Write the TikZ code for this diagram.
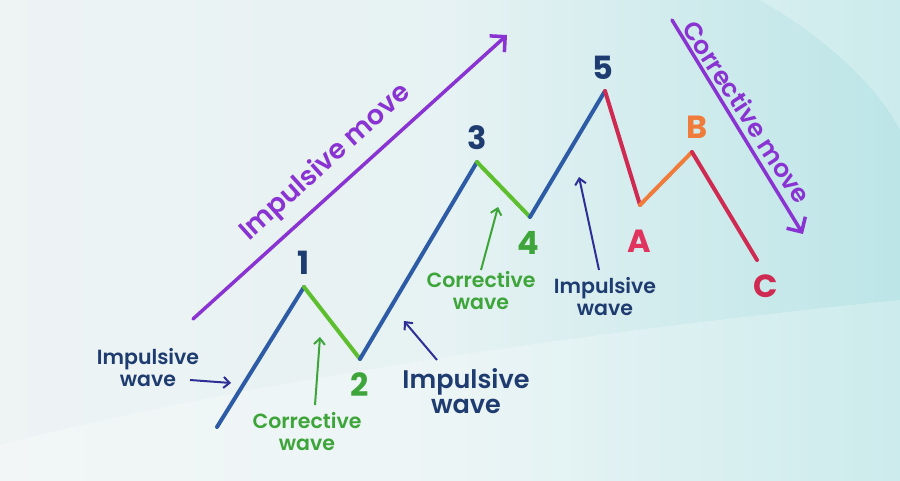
\documentclass[tikz,border=0pt]{standalone}
\usepackage{fontspec}
\setmainfont{Poppins}[UprightFont=*-SemiBold, BoldFont=*-Bold]
\usetikzlibrary{arrows.meta}
\definecolor{navy}{HTML}{1F3C70}
\definecolor{wblue}{HTML}{2D5BA6}
\definecolor{wgreen}{HTML}{5DBE2E}
\definecolor{tgreen}{HTML}{3DA53A}
\definecolor{wred}{HTML}{CF2A52}
\definecolor{tred}{HTML}{E0335E}
\definecolor{worange}{HTML}{F07C3C}
\definecolor{purp}{HTML}{8A33D3}
\definecolor{indigo}{HTML}{2E2F96}
\definecolor{bgL}{HTML}{EEF3F4}
\definecolor{bgM}{HTML}{E6F2F3}
\definecolor{bgR}{HTML}{BCE5E7}
\begin{document}
\begin{tikzpicture}[x=1pt,y=-1pt,
  wave/.style={line width=4pt, line cap=round, line join=round},
  num/.style={font=\bfseries\fontsize{32}{32}\selectfont, inner sep=0pt},
  lbl/.style={font=\fontsize{20.5}{22}\selectfont, align=center, inner sep=0pt},
  biglbl/.style={font=\fontsize{25.5}{25}\selectfont, align=center, inner sep=0pt},
  small/.style={line width=2pt, -{Straight Barb[length=6pt,width=11pt,line width=2pt]}},
  bigarr/.style={line width=3.5pt, purp, line cap=round, -{Straight Barb[length=11pt,width=22pt,line width=3.5pt]}},
  move/.style={font=\fontsize{27}{27}\selectfont, purp, inner sep=0pt}]
\useasboundingbox (0,0) rectangle (900,481);
\shade[left color=bgL, right color=bgR, middle color=bgM] (0,0) rectangle (900,481);
\fill[white, opacity=0.25] (0,481) -- (0,445) .. controls (250,380) and (600,330) .. (900,300) -- (900,481) -- cycle;
\fill[white, opacity=0.25] (760,0) .. controls (830,40) and (880,90) .. (900,130) -- (900,0) -- cycle;

% wave points
\coordinate (s) at (217,427);
\coordinate (p1) at (304,287);
\coordinate (p2) at (360,359);
\coordinate (p3) at (477,162);
\coordinate (p4) at (530,217);
\coordinate (p5) at (605,91);
\coordinate (pA) at (640,205);
\coordinate (pB) at (692,152);
\coordinate (pC) at (757,260);

\draw[wave, wblue] (s) -- (p1);
\draw[wave, wgreen] (p1) -- (p2);
\draw[wave, wblue] (p2) -- (p3);
\draw[wave, wgreen] (p3) -- (p4);
\draw[wave, wblue] (p4) -- (p5);
\draw[wave, wred] (p5) -- (pA);
\draw[wave, worange] (pA) -- (pB);
\draw[wave, wred] (pB) -- (pC);

% numbers
\node[num, navy] (n1) at (304,263) {1};
\node[num, tgreen] (n2) at (360,385) {2};
\node[num, navy] (n3) at (477,138) {3};
\node[num, tgreen] (n4) at (528,243) {4};
\node[num, navy] (n5) at (603,68) {5};
\node[num, tred] (nA) at (639,241) {A};
\node[num, worange] (nB) at (697,127) {B};
\node[num, wred] (nC) at (766,286) {C};

% big arrows
\coordinate (imT) at (193,319);
\coordinate (imH) at (507,35);
\draw[bigarr] (imT) -- (imH);
\node[move, rotate=42] (im) at (326,163) {Impulsive move};
\coordinate (cmT) at (672,20);
\coordinate (cmH) at (803,234);
\draw[bigarr] (cmT) -- (cmH);
\node[move, font=\fontsize{25}{25}\selectfont, rotate=-57] (cm) at (747,112) {Corrective move};

% labels
\node[lbl, navy] (iw1) at (148,368) {Impulsive\\wave};
\node[lbl, tgreen] (cw1) at (307,432) {Corrective\\wave};
\node[biglbl, navy] (iw2) at (466,391) {Impulsive\\wave};
\node[lbl, tgreen] (cw2) at (481,291) {Corrective\\wave};
\node[lbl, navy] (iw3) at (605,297) {Impulsive\\wave};

% small arrows
\coordinate (a1t) at (190,380); \coordinate (a1h) at (231,383);
\draw[small, indigo] (a1t) -- (a1h);
\coordinate (a2t) at (315,405); \coordinate (a2h) at (320,337);
\draw[small, tgreen] (a2t) -- (a2h);
\coordinate (a3t) at (437,360); \coordinate (a3h) at (404,321);
\draw[small, indigo] (a3t) -- (a3h);
\coordinate (a4t) at (481,270); \coordinate (a4h) at (498,207);
\draw[small, tgreen] (a4t) -- (a4h);
\coordinate (a5t) at (599,270); \coordinate (a5h) at (579,177);
\draw[small, indigo] (a5t) -- (a5h);
\end{tikzpicture}
\end{document}
